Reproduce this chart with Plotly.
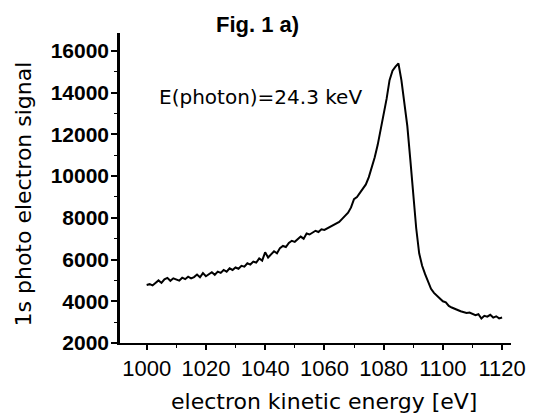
import plotly.graph_objects as go

energy_ev = list(range(1000, 1121))
signal = [
    4780, 4820, 4760, 4900, 5000, 4880, 5050, 5120, 4980, 5100,
    5050, 4990, 5130, 5060, 5180, 5100, 5160, 5280, 5150, 5350,
    5200, 5280, 5390, 5270, 5420, 5360, 5500, 5420, 5580, 5500,
    5620, 5560, 5700, 5660, 5820, 5760, 5900, 5850, 6050, 5950,
    6350, 6100, 6250, 6400, 6300, 6550, 6650, 6600, 6800, 6900,
    6850, 7000, 7100, 7000, 7250, 7200, 7300, 7380, 7320, 7450,
    7420, 7500, 7600, 7650, 7750, 7800, 7950, 8100, 8250, 8500,
    8900, 9000, 9200, 9350, 9600, 9950, 10400, 10900, 11500, 12200,
    12900, 13700, 14600, 15050, 15250, 15400, 14600, 13600, 12400, 10800,
    9000, 7500, 6300, 5700, 5300, 4950, 4600, 4400, 4250, 4150,
    4000, 3950, 3780, 3700, 3620, 3580, 3520, 3480, 3440, 3460,
    3400, 3330, 3380, 3170, 3300, 3260, 3350, 3220, 3280, 3180,
    3220,
]

x_ticks = [1000, 1020, 1040, 1060, 1080, 1100, 1120]
y_ticks = [2000, 4000, 6000, 8000, 10000, 12000, 14000, 16000]

title_text = "Fig. 1 a)"
annotation_text = "E(photon)=24.3 keV"
x_title = "electron kinetic energy [eV]"
y_title = "1s photo electron signal"

# page body has an 8px default margin; size the figure so it fits the window
OFF = 8
W, H = 538 - OFF, 417 - OFF
L, R, T, B = 120 - OFF, 21, 33 - OFF, 74
pw, ph = W - L - R, H - T - B

def px(xp):  # screen pixel -> paper x
    return (xp - 120) / pw

def py(yp):  # screen pixel -> paper y
    return (343 - yp) / ph

fig = go.Figure()
fig.add_trace(go.Scatter(
    x=energy_ev, y=signal, mode="lines",
    line=dict(color="black", width=2),
    showlegend=False, hoverinfo="skip",
))

num_font = "Liberation Sans, Arial, sans-serif"
txt_font = "DejaVu Sans, Liberation Sans, sans-serif"

fig.update_layout(
    width=W, height=H,
    margin=dict(l=L, r=R, t=T, b=B, pad=0),
    paper_bgcolor="white", plot_bgcolor="white",
    xaxis=dict(
        range=[991.0, 1123.0],
        tickmode="array", tickvals=x_ticks, ticktext=[str(v) for v in x_ticks],
        ticks="outside", ticklen=5, tickwidth=1.5, tickcolor="black",
        minor=dict(dtick=10, ticks="outside", ticklen=3, tickwidth=1.2, tickcolor="black"),
        showline=True, linecolor="black", linewidth=2,
        showgrid=False, zeroline=False,
        tickfont=dict(family=num_font, size=22, color="black"),
    ),
    yaxis=dict(
        range=[2000, 16860],
        tickmode="array", tickvals=y_ticks, ticktext=[str(v) for v in y_ticks],
        ticks="outside", ticklen=6, tickwidth=1.8, tickcolor="black",
        minor=dict(dtick=1000, tick0=1000, ticks="outside", ticklen=3, tickwidth=1.2, tickcolor="black"),
        showline=True, linecolor="black", linewidth=2.5,
        showgrid=False, zeroline=False, ticklabelstandoff=-2,
        tickfont=dict(family=num_font, size=21, color="black", weight="bold"),
    ),
    annotations=[
        dict(text=title_text, xref="paper", yref="paper", x=px(260), y=py(25),
             showarrow=False, xanchor="center", yanchor="middle",
             font=dict(family=num_font, size=22, color="black", weight="bold")),
        dict(text=annotation_text, xref="paper", yref="paper", x=px(158), y=py(97),
             showarrow=False, xanchor="left", yanchor="middle",
             font=dict(family=txt_font, size=20, color="black")),
        dict(text=x_title, xref="paper", yref="paper", x=px(327), y=py(401),
             showarrow=False, xanchor="center", yanchor="middle",
             font=dict(family=txt_font, size=22, color="black")),
        dict(text=y_title, xref="paper", yref="paper", x=px(23), y=py(194),
             showarrow=False, xanchor="center", yanchor="middle", textangle=-90,
             font=dict(family=txt_font, size=22, color="black")),
    ],
)

fig.write_html("out.html")
